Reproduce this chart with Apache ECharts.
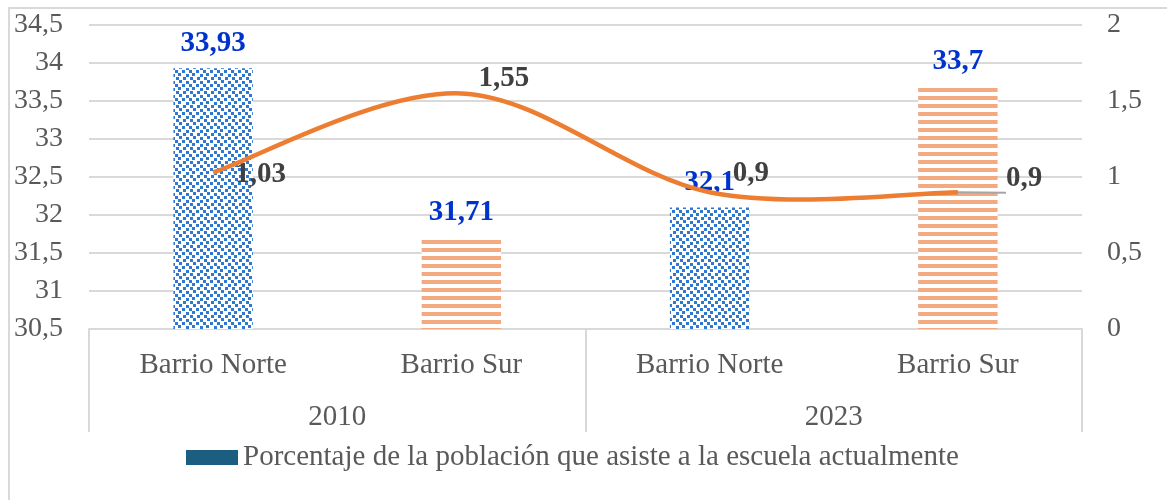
<!DOCTYPE html>
<html>
<head>
<meta charset="utf-8">
<script src="https://cdn.jsdelivr.net/npm/echarts@6/dist/echarts.min.js"></script>
<style>
  html, body { margin: 0; padding: 0; background: #fff; }
  #chart { width: 1167px; height: 500px; }
</style>
</head>
<body>
<div id="chart"></div>
<script>
// datos
const barrios = ['Barrio Norte', 'Barrio Sur', 'Barrio Norte', 'Barrio Sur']
const anios = ['2010', '2023']
const asistencia = [33.93, 31.71, 32.1, 33.7]
const lineaValores = [1.03, 1.55, 0.9, 0.9]
const nombreSerie = 'Porcentaje de la población que asiste a la escuela actualmente'

const serif = '"Liberation Serif", "Times New Roman", serif'
const coma = v => String(v).replace('.', ',')

// patron de puntitos azul
function puntos() {
  const c = document.createElement('canvas')
  c.width = 14; c.height = 14
  const g = c.getContext('2d')
  g.fillStyle = '#fff'
  g.fillRect(0, 0, 14, 14)
  g.fillStyle = '#2E78D2'
  const pos = [[0,0],[7,0],[4,4],[10,3],[1,7],[8,7],[4,11],[11,10]]
  pos.forEach(p => g.fillRect(p[0], p[1], 3, 3))
  return c
}
// patron de rayas horizontales naranja
function rayas() {
  const c = document.createElement('canvas')
  c.width = 8; c.height = 8
  const g = c.getContext('2d')
  g.fillStyle = '#fff'
  g.fillRect(0, 0, 8, 8)
  g.fillStyle = '#F4AA80'
  g.fillRect(0, 0, 8, 4)
  return c
}
const azul = { image: puntos(), repeat: 'repeat' }
const naranja = { image: rayas(), repeat: 'repeat' }
const rellenos = [azul, naranja, azul, naranja]

// etiquetas de la linea, cada una en su sitio
const lineaLabels = [
  { distance: 22, offset: [0, 2] },
  { distance: 17, offset: [0, -15] },
  { distance: 23, offset: [0, -19] },
  { distance: 48, offset: [0, -14] }
]

// curva suavizada tipo excel (catmull-rom) sobre las coordenadas del eje
function curva(params, api) {
  if (params.dataIndex !== 0) return null
  const pts = lineaValores.map((v, i) => api.coord([i, v]))
  const n = pts.length
  let d = 'M' + pts[0][0] + ' ' + pts[0][1]
  for (let i = 0; i < n - 1; i++) {
    const p0 = pts[Math.max(i - 1, 0)], p1 = pts[i], p2 = pts[i + 1], p3 = pts[Math.min(i + 2, n - 1)]
    const c1 = [p1[0] + (p2[0] - p0[0]) / 6, p1[1] + (p2[1] - p0[1]) / 6]
    const c2 = [p2[0] - (p3[0] - p1[0]) / 6, p2[1] - (p3[1] - p1[1]) / 6]
    d += ' C' + c1.join(' ') + ' ' + c2.join(' ') + ' ' + p2.join(' ')
  }
  return {
    type: 'path',
    shape: { pathData: d },
    style: { fill: 'none', stroke: '#ED7D31', lineWidth: 4.5 }
  }
}

const chart = echarts.init(document.getElementById('chart'))
chart.setOption({
  animation: false,
  grid: { left: 89, right: 85, top: 25, bottom: 171 },
  graphic: [{
    type: 'rect',
    shape: { x: 9, y: 8, width: 1200, height: 600 },
    style: { fill: 'none', stroke: '#D9D9D9', lineWidth: 2 }
  }],
  legend: {
    left: 186, top: 443, padding: 0,
    itemWidth: 52, itemHeight: 15, icon: 'rect', itemGap: 5,
    textStyle: { fontFamily: serif, fontSize: 29, color: '#595959', padding: [0, 0, 0, 0] },
    data: [{ name: nombreSerie, itemStyle: { color: '#1B5E80' } }]
  },
  xAxis: [
    {
      type: 'category', data: barrios, position: 'bottom',
      axisLine: { lineStyle: { color: '#D9D9D9', width: 2 } },
      axisTick: { show: false },
      axisLabel: { margin: 22, fontFamily: serif, fontSize: 29, color: '#595959' }
    },
    {
      type: 'category', data: anios, position: 'bottom',
      axisLine: { show: false },
      axisTick: { show: true, length: 103, lineStyle: { color: '#D9D9D9', width: 2 } },
      axisLabel: { margin: 74, fontFamily: serif, fontSize: 29, color: '#595959' }
    }
  ],
  yAxis: [
    {
      type: 'value', min: 30.5, max: 34.5, interval: 0.5,
      axisLine: { show: false }, axisTick: { show: false },
      splitLine: { lineStyle: { color: '#D9D9D9', width: 2 } },
      axisLabel: { margin: 26, fontFamily: serif, fontSize: 28, color: '#595959', formatter: coma }
    },
    {
      type: 'value', min: 0, max: 2, interval: 0.5, position: 'right',
      axisLine: { show: false }, axisTick: { show: false },
      splitLine: { show: false },
      axisLabel: { margin: 25, fontFamily: serif, fontSize: 28, color: '#595959', formatter: coma }
    }
  ],
  series: [
    {
      name: nombreSerie, type: 'bar', xAxisIndex: 0, yAxisIndex: 0,
      barWidth: '32%',
      data: asistencia.map((v, i) => ({ value: v, itemStyle: { color: rellenos[i] } })),
      label: {
        show: true, position: 'top', distance: 10,
        fontFamily: serif, fontSize: 29, fontWeight: 'bold', color: '#0033CC',
        formatter: p => coma(p.value)
      }
    },
    {
      name: 'curva', type: 'custom', xAxisIndex: 0, yAxisIndex: 1,
      renderItem: curva, data: lineaValores, z: 3
    },
    {
      // solo para las etiquetas de la linea
      name: 'linea', type: 'line', xAxisIndex: 0, yAxisIndex: 1,
      symbol: 'circle', symbolSize: 0.1, showSymbol: true,
      lineStyle: { width: 0, opacity: 0 },
      itemStyle: { color: '#ED7D31' },
      z: 4,
      data: lineaValores.map((v, i) => ({
        value: v,
        label: { position: 'right', distance: lineaLabels[i].distance, offset: lineaLabels[i].offset },
        labelLine: i === 3 ? { show: true, lineStyle: { color: '#A6A6A6', width: 2 } } : undefined
      })),
      label: {
        show: true, fontFamily: serif, fontSize: 29, fontWeight: 'bold', color: '#404040',
        formatter: p => coma(p.value)
      }
    }
  ]
})
</script>
</body>
</html>
